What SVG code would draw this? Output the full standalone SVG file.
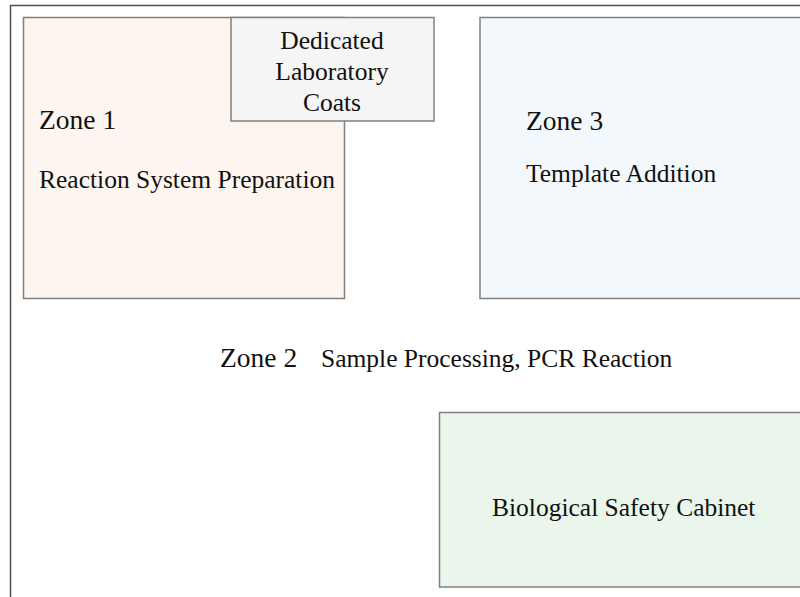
<svg xmlns="http://www.w3.org/2000/svg" width="800" height="597" viewBox="0 0 800 597">
<style>
.box{stroke:#808080;stroke-width:1.5}
.t{font-family:"Liberation Serif","Times New Roman",serif;fill:#111}
.big{font-size:27.5px}
.mid{font-size:25.5px}
</style>
<rect x="0" y="0" width="800" height="597" fill="#ffffff"/>
<g id="room">
<path d="M10.5,597 V5.5 H800" fill="none" stroke="#505050" stroke-width="1.5"/>
</g>
<g id="zone1">
<rect class="box" x="23.5" y="17.5" width="321" height="281" fill="#fdf5f0"/>
<text class="t big" x="39" y="128.5">Zone 1</text>
<text class="t mid" x="39" y="187.5">Reaction System Preparation</text>
</g>
<g id="coats">
<rect class="box" x="231" y="17.5" width="203" height="103.5" fill="#f5f5f5"/>
<text class="t mid" text-anchor="middle" x="332" y="49">Dedicated</text>
<text class="t mid" text-anchor="middle" x="332" y="80">Laboratory</text>
<text class="t mid" text-anchor="middle" x="332" y="110.5">Coats</text>
</g>
<g id="zone3">
<rect class="box" x="480" y="17.5" width="330" height="281" fill="#f3f8fd"/>
<text class="t big" x="526" y="129.5">Zone 3</text>
<text class="t mid" x="526" y="181.5">Template Addition</text>
</g>
<g id="zone2">
<text class="t big" x="220" y="366.5">Zone 2</text>
<text class="t mid" x="321" y="366.5">Sample Processing, PCR Reaction</text>
</g>
<g id="cabinet">
<rect class="box" x="439.5" y="412.5" width="370" height="174.5" fill="#eaf6ec"/>
<text class="t mid" x="492" y="516">Biological Safety Cabinet</text>
</g>
<g id="connectors"></g>
</svg>
